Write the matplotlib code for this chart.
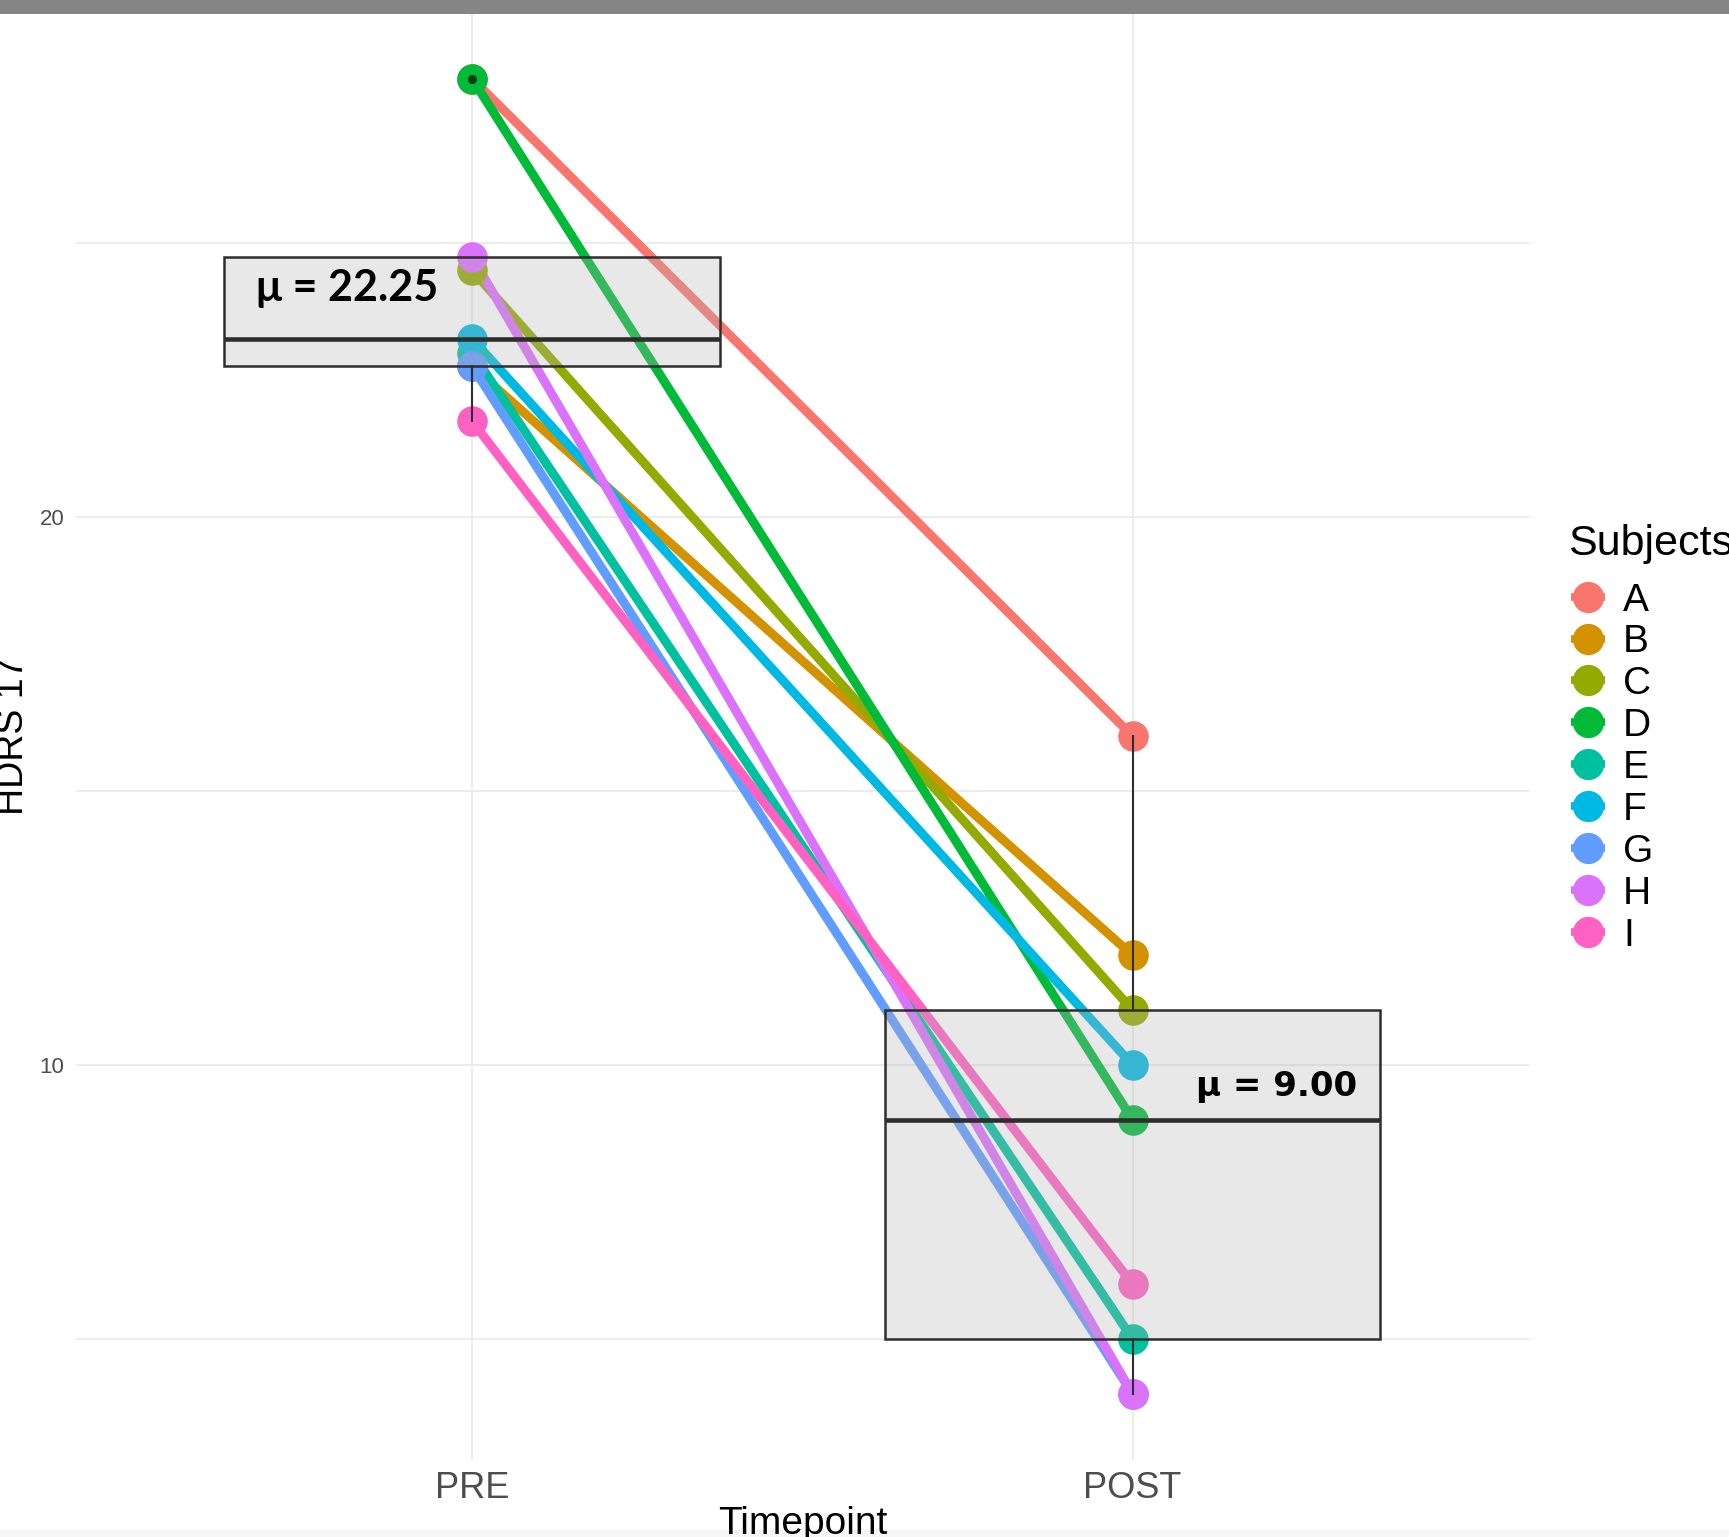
import matplotlib
matplotlib.use("Agg")
import matplotlib.pyplot as plt
from matplotlib.lines import Line2D
from matplotlib.patches import Rectangle

# HDRS-17 scores per subject before and after treatment
subjects = ["A", "B", "C", "D", "E", "F", "G", "H", "I"]
pre_scores = [28, 22.75, 24.5, 28, 23, 23.25, 22.75, 24.75, 21.75]
post_scores = [16, 12, 11, 9, 5, 10, 4, 4, 6]
timepoints = ["PRE", "POST"]
colors = ["#F8766D", "#D39200", "#93AA00", "#00BA38", "#00C19F",
          "#00B9E3", "#619CFF", "#DB72FB", "#FF61C3"]
pre_label = "\u03bc = 22.25"
post_label = "\u03bc = 9.00"

W, H = 1729, 1537
fig = plt.figure(figsize=(W / 100, H / 100), dpi=100)
fig.patch.set_facecolor("white")

px_l, px_r, px_t, px_b = 75.7, 1529.0, 12.8, 1459.6
ax = fig.add_axes([px_l / W, 1 - px_b / H, (px_r - px_l) / W, (px_b - px_t) / H])
ax.set_facecolor("white")

xpos = [1, 2]

# subject trajectories
for s, c, a, b in zip(subjects, colors, pre_scores, post_scores):
    ax.plot(xpos, [a, b], color=c, lw=6.5, solid_capstyle="butt", zorder=2)
for s, c, a, b in zip(subjects, colors, pre_scores, post_scores):
    ax.plot(xpos, [a, b], linestyle="none", marker="o", markersize=21,
            markerfacecolor=c, markeredgecolor=c, zorder=3)

# summary boxes on top of the trajectories
edge = "#2e2e2e"
ax.boxplot([pre_scores, post_scores], positions=xpos, widths=0.75, whis=1.5,
           showcaps=False, patch_artist=True, zorder=4,
           boxprops=dict(facecolor=(0.70, 0.70, 0.70, 0.30), edgecolor=edge, linewidth=1.8),
           medianprops=dict(color=edge, linewidth=3.3),
           whiskerprops=dict(color=edge, linewidth=1.5),
           flierprops=dict(marker="o", markersize=6.5, markerfacecolor=(0, 0, 0, 0.4),
                           markeredgecolor="none"))

ax.text(0.673, 24.18, pre_label, ha="left", va="center", fontsize=31,
        fontweight="bold", family=["Lato", "DejaVu Sans"], color="black", zorder=6)
ax.text(2.34, 9.6, post_label, ha="right", va="center", fontsize=24.5,
        fontweight="bold", family="DejaVu Sans", color="black", zorder=6)

ax.set_xlim(0.4, 2.6)
ax.set_ylim(2.8, 29.2)
ax.set_xticks(xpos)
ax.set_xticklabels(timepoints)
ax.set_yticks([10, 20])
ax.set_yticks([5, 15, 25], minor=True)
ax.grid(True, which="both", color="#ebebeb", linewidth=1.3, zorder=0)
ax.set_axisbelow(True)
for sp in ax.spines.values():
    sp.set_visible(False)
ax.tick_params(axis="both", which="both", length=0)
ax.tick_params(axis="y", labelsize=16, labelcolor="#4d4d4d", pad=8)
ax.tick_params(axis="x", labelsize=26, labelcolor="#4d4d4d", pad=8)
for t in ax.get_yticklabels() + ax.get_xticklabels():
    t.set_family("Liberation Sans")

# bands at the top and bottom edges
fig.add_artist(Rectangle((0, 1 - 14 / H), 1, 14 / H, transform=fig.transFigure,
                         facecolor="#858585", edgecolor="none", zorder=10))
fig.add_artist(Rectangle((0, 0), 1, 7 / H, transform=fig.transFigure,
                         facecolor="#f6f6f6", edgecolor="none", zorder=0))

fig.text(803 / W, 1 - 1506 / H, "Timepoint", ha="center", va="top", fontsize=28,
         family="Liberation Sans", color="black")
fig.text(13 / W, 1 - 736 / H, "HDRS 17", ha="center", va="center", rotation=90,
         fontsize=27, family="Liberation Sans", color="black")

# legend
fig.text(1568 / W, 1 - 543.6 / H, "Subjects", ha="left", va="center", fontsize=31,
         family="Liberation Sans", color="black")
for i, (s, c) in enumerate(zip(subjects, colors)):
    yy = 1 - (596.6 + i * 41.9) / H
    fig.add_artist(Line2D([1571 / W, 1605 / W], [yy, yy], transform=fig.transFigure,
                          color=c, lw=5.5, solid_capstyle="butt"))
    fig.add_artist(Line2D([1588 / W], [yy], transform=fig.transFigure, linestyle="none",
                          marker="o", markersize=21.5, markerfacecolor=c, markeredgecolor=c))
    fig.text(1623 / W, yy, s, ha="left", va="center_baseline", fontsize=28,
             family="Liberation Sans", color="black")

fig.savefig("out.png", dpi=100, facecolor="white")
